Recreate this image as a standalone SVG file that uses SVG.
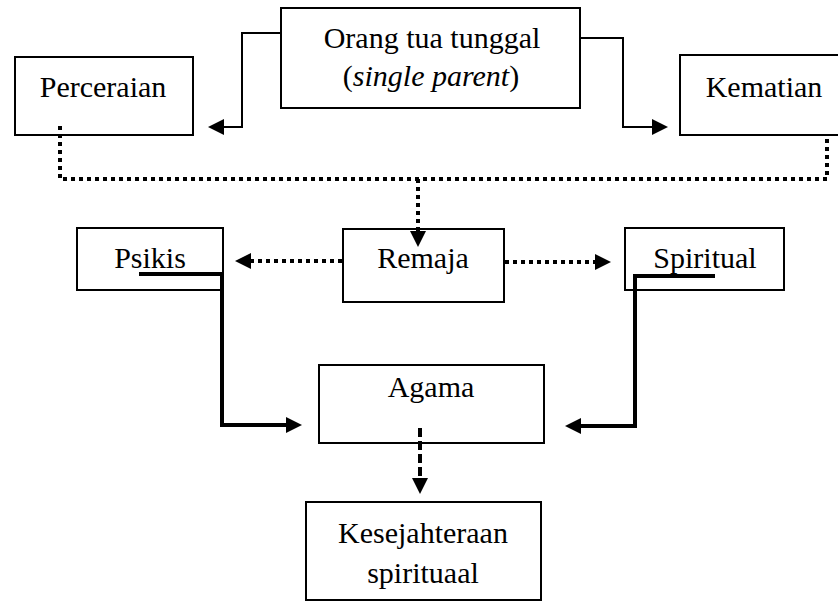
<svg xmlns="http://www.w3.org/2000/svg" width="838" height="602" viewBox="0 0 838 602">
<style>
.box{fill:#fff;stroke:#000;stroke-width:2}
.t{font-family:"Liberation Serif","Times New Roman",serif;font-size:30px;fill:#000;text-anchor:middle}
.thin{fill:none;stroke:#000;stroke-width:2}
.thick{fill:none;stroke:#000;stroke-width:4}
.dot{fill:none;stroke:#000;stroke-width:4;stroke-dasharray:4 4}
.dash{fill:none;stroke:#000;stroke-width:4;stroke-dasharray:9 4}
</style>
<defs>
<marker id="ah" markerUnits="userSpaceOnUse" markerWidth="17" markerHeight="16" refX="0" refY="8" orient="auto">
<path d="M0,0 L16,8 L0,16 z" fill="#000"/>
</marker>
</defs>
<g id="n-orangtua"><rect class="box" x="281" y="8" width="299" height="100"/>
<text class="t" x="432" y="48">Orang tua tunggal</text>
<text class="t" x="431" y="86">(<tspan font-style="italic">single parent</tspan>)</text></g>
<g id="n-perceraian"><rect class="box" x="15" y="57" width="178" height="78"/>
<text class="t" x="103" y="97">Perceraian</text></g>
<g id="n-kematian"><rect class="box" x="680" y="55" width="160" height="80"/>
<text class="t" x="764" y="97">Kematian</text></g>
<g id="n-remaja"><rect class="box" x="343" y="229" width="161" height="73"/>
<text class="t" x="423" y="268">Remaja</text></g>
<g id="n-psikis"><rect class="box" x="77" y="228" width="146" height="62"/>
<text class="t" x="150" y="268">Psikis</text></g>
<g id="n-spiritual"><rect class="box" x="625" y="228" width="159" height="62"/>
<text class="t" x="705" y="268">Spiritual</text></g>
<g id="n-agama"><rect class="box" x="319" y="365" width="225" height="78"/>
<text class="t" x="431" y="397">Agama</text></g>
<g id="n-kesejahteraan"><rect class="box" x="306" y="502" width="235" height="98"/>
<text class="t" x="423" y="543">Kesejahteraan</text>
<text class="t" x="423" y="583">spirituaal</text></g>
<g id="connectors">
<path class="thin" d="M281,33 H242 V127 H224" marker-end="url(#ah)"/>
<path class="thin" d="M580,38 H623 V127 H652" marker-end="url(#ah)"/>
<path class="dot" d="M60,126 V179 H827 V136"/>
<path class="dot" d="M418,179 V231" marker-end="url(#ah)"/>
<path class="dot" d="M342,261 H251" marker-end="url(#ah)"/>
<path class="dot" d="M505,262 H595" marker-end="url(#ah)"/>
<path class="thick" d="M139,274 H222 V425 H286" marker-end="url(#ah)"/>
<path class="thick" d="M715,276 H635 V426 H581" marker-end="url(#ah)"/>
<path class="dash" d="M420,428 V478" marker-end="url(#ah)"/>
</g>
</svg>
